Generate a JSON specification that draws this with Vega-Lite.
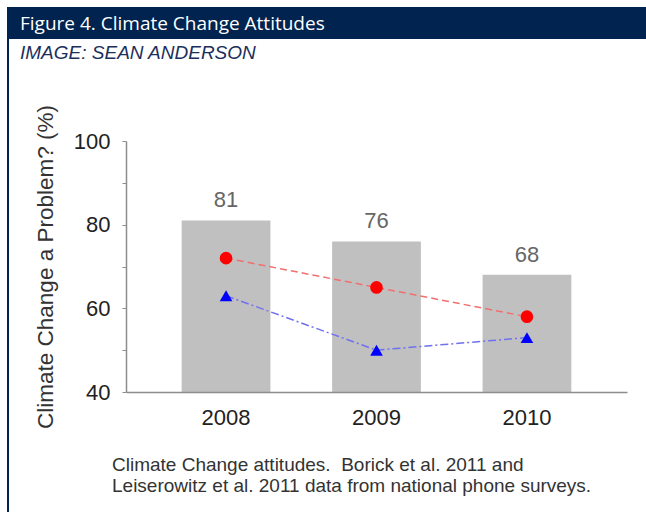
{
  "$schema": "https://vega.github.io/schema/vega-lite/v6.json",
  "background": "white",
  "padding": {"left": 7, "top": 7, "right": 0, "bottom": 0},
  "bounds": "flush",
  "spacing": 0,
  "config": {"view": {"stroke": null}, "font": "Liberation Sans"},
  "datasets": {
    "totals": [
      {"year": "2008", "pct": 81},
      {"year": "2009", "pct": 76},
      {"year": "2010", "pct": 68}
    ],
    "surveys": [
      {"year": "2008", "survey": "A", "pct": 72},
      {"year": "2009", "survey": "A", "pct": 65},
      {"year": "2010", "survey": "A", "pct": 58},
      {"year": "2008", "survey": "B", "pct": 63},
      {"year": "2009", "survey": "B", "pct": 50},
      {"year": "2010", "survey": "B", "pct": 53}
    ]
  },
  "hconcat": [
    {
      "width": 2,
      "height": 505,
      "view": {"fill": "#00234f", "stroke": null},
      "data": {"values": [{}]},
      "mark": "text",
      "encoding": {"text": {"value": ""}}
    },
    {
      "bounds": "flush",
      "spacing": 102,
      "vconcat": [
        {
          "width": 637,
          "height": 32,
          "view": {"fill": "#00234f", "stroke": null},
          "title": {
            "text": "Figure 4. Climate Change Attitudes",
            "subtitle": "IMAGE: SEAN ANDERSON",
            "orient": "top",
            "anchor": "start",
            "frame": "group",
            "dx": 11,
            "offset": -56,
            "font": "Open Sans",
            "fontSize": 19,
            "fontWeight": "normal",
            "color": "#ffffff",
            "subtitleFont": "Liberation Sans",
            "subtitleFontStyle": "italic",
            "subtitleFontSize": 19,
            "subtitleColor": "#1b2f5c",
            "subtitlePadding": 10
          },
          "data": {"values": [{}]},
          "mark": "text",
          "encoding": {"text": {"value": ""}}
        },
        {
          "bounds": "flush",
          "spacing": 116,
          "hconcat": [
            {
              "width": 1,
              "height": 1,
              "data": {"values": [{}]},
              "mark": "text",
              "encoding": {"text": {"value": ""}}
            },
            {
              "width": 501,
              "height": 251,
              "title": {
                "text": [
                  "Climate Change attitudes.\u00a0 Borick et al. 2011 and",
                  "Leiserowitz et al. 2011 data from national phone surveys."
                ],
                "orient": "bottom",
                "anchor": "start",
                "frame": "group",
                "dx": -14,
                "offset": 28,
                "font": "Liberation Sans",
                "fontSize": 19,
                "fontWeight": "normal",
                "color": "#333333",
                "lineHeight": 21
              },
              "encoding": {
                "x": {
                  "field": "year",
                  "type": "ordinal",
                  "scale": {"paddingInner": 0.41, "paddingOuter": 0.37},
                  "axis": {
                    "title": null,
                    "labelAngle": 0,
                    "ticks": false,
                    "domainColor": "#8c8c8c",
                    "domainWidth": 1.5,
                    "labelFont": "Liberation Sans",
                    "labelFontSize": 22,
                    "labelColor": "#222222",
                    "labelPadding": 15,
                    "zindex": 1
                  }
                },
                "y": {
                  "field": "pct",
                  "type": "quantitative",
                  "scale": {"domain": [40, 100], "nice": false, "zero": false},
                  "axis": {
                    "title": "Climate Change a Problem? (%)",
                    "values": [40, 50, 60, 70, 80, 90, 100],
                    "labelExpr": "datum.value % 20 === 0 ? datum.label : ''",
                    "grid": false,
                    "tickSize": 4,
                    "tickColor": "#8c8c8c",
                    "domainColor": "#8c8c8c",
                    "domainWidth": 1.5,
                    "labelFont": "Liberation Sans",
                    "labelFontSize": 22,
                    "labelColor": "#222222",
                    "labelPadding": 12,
                    "titleFont": "Liberation Sans",
                    "titleFontSize": 22.5,
                    "titleFontWeight": "normal",
                    "titleColor": "#333333",
                    "titlePadding": 16,
                    "zindex": 1
                  }
                }
              },
              "layer": [
                {
                  "data": {"name": "totals"},
                  "mark": {"type": "bar", "color": "#c0c0c0"},
                  "encoding": {"y2": {"datum": 40}}
                },
                {
                  "data": {"name": "totals"},
                  "mark": {"type": "text", "baseline": "bottom", "dy": -8, "fontSize": 22, "color": "#666666", "font": "Liberation Sans"},
                  "encoding": {"text": {"field": "pct", "type": "quantitative"}}
                },
                {
                  "data": {"name": "surveys"},
                  "mark": {"type": "line", "strokeWidth": 1.5},
                  "encoding": {
                    "stroke": {"field": "survey", "type": "nominal", "scale": {"domain": ["A", "B"], "range": ["#f07070", "#7070f0"]}, "legend": null},
                    "strokeDash": {"field": "survey", "type": "nominal", "scale": {"domain": ["A", "B"], "range": [[7, 4], [8, 3, 2, 3]]}, "legend": null}
                  }
                },
                {
                  "data": {"name": "surveys"},
                  "mark": {"type": "point", "filled": true, "opacity": 1, "size": 160},
                  "encoding": {
                    "fill": {"field": "survey", "type": "nominal", "scale": {"domain": ["A", "B"], "range": ["#ff0000", "#0000ff"]}, "legend": null},
                    "shape": {"field": "survey", "type": "nominal", "scale": {"domain": ["A", "B"], "range": ["circle", "triangle-up"]}, "legend": null}
                  }
                }
              ]
            }
          ]
        }
      ]
    }
  ]
}
